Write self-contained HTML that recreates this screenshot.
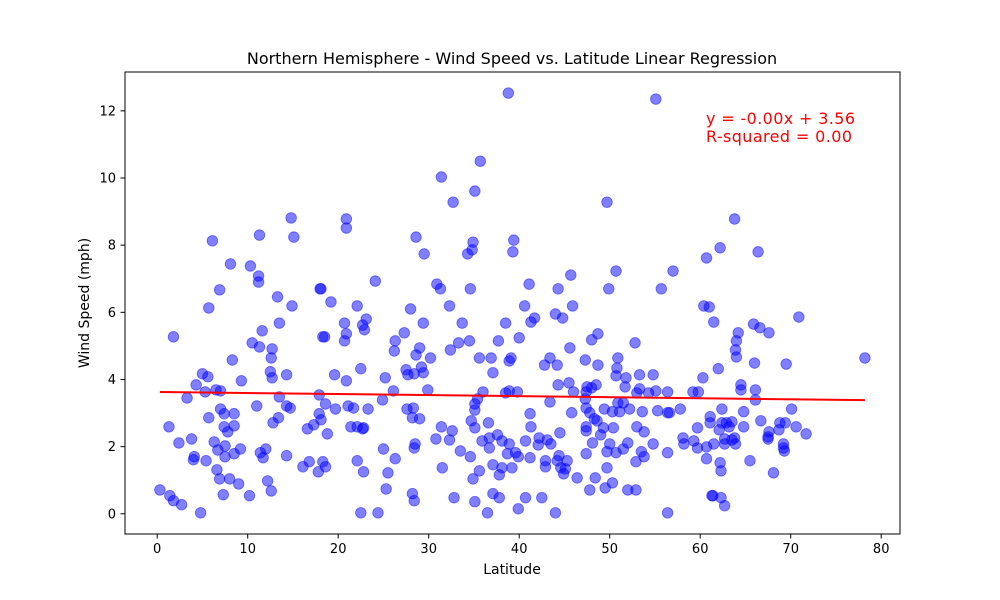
<!DOCTYPE html>
<html><head><meta charset="utf-8"><style>
html,body{margin:0;padding:0;background:#fff;}
svg{display:block;font-family:"DejaVu Sans","Liberation Sans",sans-serif;}
</style></head><body>
<svg id="chart" width="1000" height="600" viewBox="0 0 1000 600" xmlns="http://www.w3.org/2000/svg">
<rect width="1000" height="600" fill="#fff"/>
<text x="512" y="64" text-anchor="middle" font-size="16" fill="#000">Northern Hemisphere - Wind Speed vs. Latitude Linear Regression</text>
<g id="xticks"></g><g id="yticks"></g>
<g id="points"></g>
<g id="reg"></g>
<rect x="125" y="72" width="775" height="462" fill="none" stroke="#000" stroke-width="1"/>
<text x="512" y="574" text-anchor="middle" font-size="14" fill="#000">Latitude</text>
<text transform="translate(89,303) rotate(-90)" text-anchor="middle" font-size="14" fill="#000">Wind Speed (mph)</text>
<text id="eq" x="706" y="124" font-size="16" fill="red" textLength="149">y = -0.00x + 3.56</text>
<text id="r2" x="706" y="142" font-size="16" fill="red" textLength="146">R-squared = 0.00</text>
</svg>
<script>
const latitude = [14.8,11.3,15.1,6.1,8.1,10.3,11.2,11.2,6.9,18.0,13.3,14.9,5.7,13.5,1.8,11.6,18.3,10.5,11.3,12.7,12.6,8.3,12.5,12.7,14.3,5.0,5.6,9.3,4.3,5.3,6.5,7.0,3.3,13.5,17.9,11.0,14.3,14.7,7.0,7.4,8.5,5.7,13.4,12.8,17.9,18.1,1.3,7.4,8.5,7.8,16.6,17.3,2.4,3.8,6.3,7.5,9.2,6.7,12.0,11.4,11.7,7.5,8.5,4.1,4.0,5.4,14.3,16.8,16.1,17.8,18.3,6.6,6.9,8.0,9.0,12.2,12.6,0.3,1.4,1.8,2.7,7.3,10.2,4.8,
38.8,35.7,31.4,35.1,32.7,20.9,20.9,28.6,29.5,34.9,34.8,34.3,39.4,39.3,24.1,18.1,30.9,31.3,34.6,19.2,22.1,28.0,32.3,20.7,22.7,23.1,22.9,29.4,33.7,38.5,18.5,20.9,20.7,26.3,27.3,34.5,37.7,33.3,32.4,26.2,29.0,28.6,30.2,35.6,36.9,39.1,38.9,40.0,19.6,20.9,22.5,25.2,27.5,27.7,28.4,29.2,29.4,37.1,26.1,29.9,36.0,38.5,38.9,39.8,18.6,19.7,21.1,21.7,23.3,24.9,27.6,28.3,28.2,29.0,35.4,35.1,35.1,34.7,36.6,35.1,21.4,22.1,22.8,22.7,18.8,31.4,32.6,30.8,32.3,35.9,36.7,37.6,38.1,38.9,36.7,28.5,28.4,25.0,26.3,33.5,34.6,38.7,39.6,18.6,22.1,22.8,25.5,31.5,35.6,34.9,37.1,37.8,38.1,39.2,25.3,28.2,28.4,32.8,35.1,37.1,37.8,22.5,24.4,36.5,39.9,
55.1,49.7,60.7,41.1,44.3,45.7,50.7,49.9,55.7,57.0,40.6,45.9,44.0,44.8,41.3,41.7,60.4,61.0,61.5,48.0,48.7,52.8,45.6,42.8,43.4,44.2,47.3,48.7,50.9,50.8,50.7,51.8,53.3,54.8,60.3,44.3,45.5,46.0,47.5,48.0,48.5,47.4,51.7,53.3,53.0,54.3,55.1,56.4,59.2,59.8,43.4,47.3,47.4,47.8,50.9,51.5,49.4,50.3,51.1,52.2,53.6,55.3,56.4,56.6,57.8,41.2,45.8,48.3,48.6,61.1,61.1,41.3,44.5,47.4,47.4,49.3,49.0,50.4,53.0,53.8,59.7,40.7,42.1,42.2,43.1,43.5,48.1,50.0,52.0,51.5,54.8,58.1,58.2,59.3,59.7,60.7,61.5,39.9,41.2,42.9,42.9,44.4,44.2,45.3,44.6,44.9,45.1,47.4,49.7,50.7,53.5,53.8,52.9,56.4,60.7,49.7,46.4,48.4,47.8,49.5,50.3,52.0,52.9,40.7,42.5,44.0,56.4,61.3,
63.8,62.2,66.4,70.9,65.9,66.6,67.6,64.2,64.0,63.9,64.0,66.0,69.5,78.2,62.0,64.5,64.5,66.1,66.1,62.4,64.8,70.1,62.4,62.9,63.5,63.2,62.1,64.8,66.7,68.8,69.4,68.7,67.6,70.6,71.7,67.5,67.5,62.7,63.8,63.5,62.7,63.9,69.2,69.2,69.3,65.5,62.2,62.3,68.1,61.4,62.3,62.7];
const windSpeed = [8.81,8.30,8.24,8.13,7.44,7.38,7.08,6.90,6.67,6.70,6.46,6.19,6.13,5.68,5.27,5.45,5.27,5.09,4.97,4.91,4.64,4.58,4.23,4.05,4.14,4.17,4.08,3.96,3.84,3.63,3.69,3.66,3.45,3.48,3.54,3.21,3.21,3.15,3.12,2.98,2.98,2.86,2.86,2.71,2.98,2.80,2.59,2.59,2.62,2.44,2.53,2.65,2.11,2.23,2.14,2.02,1.93,1.90,1.93,1.82,1.67,1.70,1.79,1.70,1.61,1.58,1.73,1.55,1.40,1.25,1.55,1.31,1.04,1.04,0.89,0.98,0.68,0.71,0.54,0.39,0.27,0.57,0.54,0.03,
12.53,10.50,10.03,9.61,9.28,8.78,8.51,8.24,7.74,8.09,7.86,7.74,8.15,7.80,6.93,6.70,6.84,6.70,6.70,6.31,6.19,6.10,6.19,5.68,5.62,5.80,5.48,5.68,5.68,5.68,5.27,5.36,5.15,5.15,5.39,5.15,5.15,5.09,4.88,4.85,4.94,4.73,4.64,4.64,4.64,4.64,4.55,5.24,4.14,3.96,4.32,4.05,4.29,4.14,4.17,4.37,4.20,4.20,3.66,3.69,3.63,3.60,3.66,3.63,3.27,3.12,3.21,3.15,3.12,3.39,3.12,3.15,2.86,2.83,3.42,3.27,3.09,2.77,2.71,2.56,2.59,2.59,2.56,2.53,2.38,2.59,2.47,2.23,2.20,2.17,2.26,2.35,2.17,2.08,1.96,2.08,1.96,1.93,1.64,1.87,1.70,1.79,1.82,1.40,1.58,1.25,1.22,1.37,1.28,1.04,1.46,1.16,1.37,1.37,0.74,0.60,0.39,0.48,0.36,0.60,0.48,0.03,0.03,0.03,0.15,
12.35,9.28,7.62,6.84,6.70,7.11,7.23,6.70,6.70,7.23,6.19,6.19,5.95,5.83,5.71,5.83,6.19,6.16,5.71,5.18,5.36,5.09,4.94,4.43,4.64,4.43,4.58,4.43,4.64,4.34,4.11,4.05,4.14,4.14,4.05,3.84,3.90,3.63,3.78,3.75,3.84,3.63,3.78,3.72,3.60,3.60,3.66,3.63,3.63,3.63,3.33,3.42,3.15,3.01,3.30,3.30,3.12,3.04,3.04,3.12,3.04,3.07,3.01,3.01,3.12,2.98,3.01,2.83,2.77,2.89,2.71,2.59,2.41,2.59,2.47,2.56,2.35,2.56,2.59,2.44,2.56,2.17,2.05,2.26,2.20,2.08,2.11,2.08,2.11,1.93,2.08,2.26,2.08,2.17,1.96,1.99,2.08,1.70,1.67,1.58,1.40,1.73,1.58,1.58,1.37,1.19,1.34,1.79,1.85,1.82,1.85,1.70,1.55,1.82,1.64,1.37,1.07,1.07,0.71,0.77,0.92,0.71,0.71,0.48,0.48,0.03,0.03,0.54,
8.78,7.92,7.80,5.86,5.65,5.54,5.39,5.39,5.15,4.88,4.67,4.49,4.46,4.64,4.32,3.84,3.69,3.69,3.39,3.12,3.04,3.12,2.71,2.71,2.74,2.59,2.50,2.59,2.77,2.71,2.71,2.50,2.44,2.59,2.38,2.29,2.23,2.23,2.26,2.20,2.08,2.08,2.08,1.96,1.87,1.58,1.52,1.28,1.22,0.54,0.48,0.24];
const xTicks = [0,10,20,30,40,50,60,70,80];
const yTicks = [0,2,4,6,8,10,12];

const NS='http://www.w3.org/2000/svg';
const xScale = v => 157.2 + v*9.05;
const yScale = v => 513.8 - v*33.58;

const xg=document.getElementById('xticks');
xTicks.forEach(t=>{
  const l=document.createElementNS(NS,'line');
  
  
  l.setAttribute('x1',xScale(t));l.setAttribute('x2',xScale(t));
  l.setAttribute('y1',534);l.setAttribute('y2',538.5);l.setAttribute('stroke','#000');
  xg.appendChild(l);
  const tx=document.createElementNS(NS,'text');
  
  
  tx.setAttribute('x',xScale(t));tx.setAttribute('y',553);
  tx.setAttribute('text-anchor','middle');tx.setAttribute('font-size','13');
  tx.textContent=t;xg.appendChild(tx);
});
const yg=document.getElementById('yticks');
yTicks.forEach(t=>{
  const l=document.createElementNS(NS,'line');
  
  
  l.setAttribute('x1',120.5);l.setAttribute('x2',125);
  l.setAttribute('y1',yScale(t));l.setAttribute('y2',yScale(t));l.setAttribute('stroke','#000');
  yg.appendChild(l);
  const tx=document.createElementNS(NS,'text');
  
  
  tx.setAttribute('x',116);tx.setAttribute('y',yScale(t)+4.5);
  tx.setAttribute('text-anchor','end');tx.setAttribute('font-size','13');
  tx.textContent=t;yg.appendChild(tx);
});
const pg=document.getElementById('points');
const n=Math.min(latitude.length,windSpeed.length);
for(let i=0;i<n;i++){
  const c=document.createElementNS(NS,'circle');
  
  
  c.setAttribute('cx',xScale(latitude[i]));c.setAttribute('cy',yScale(windSpeed[i]));
  c.setAttribute('r',5.3);
  c.setAttribute('fill','rgba(0,0,255,0.5)');
  c.setAttribute('stroke','rgba(0,0,255,0.5)');c.setAttribute('stroke-width','0.8');
  pg.appendChild(c);
}
// linear regression
let sx=0,sy=0,sxx=0,sxy=0;
for(let i=0;i<n;i++){const x=latitude[i],y=windSpeed[i];sx+=x;sy+=y;sxx+=x*x;sxy+=x*y;}
const slope=(n*sxy-sx*sy)/(n*sxx-sx*sx);
const intercept=(sy-slope*sx)/n;
const xmin=Math.min(...latitude), xmax=Math.max(...latitude);
const rl=document.createElementNS(NS,'line');


rl.setAttribute('x1',xScale(xmin));rl.setAttribute('y1',yScale(intercept+slope*xmin));
rl.setAttribute('x2',xScale(xmax));rl.setAttribute('y2',yScale(intercept+slope*xmax));
rl.setAttribute('stroke','red');rl.setAttribute('stroke-width','2');
document.getElementById('reg').appendChild(rl);
</script>
</body></html>
